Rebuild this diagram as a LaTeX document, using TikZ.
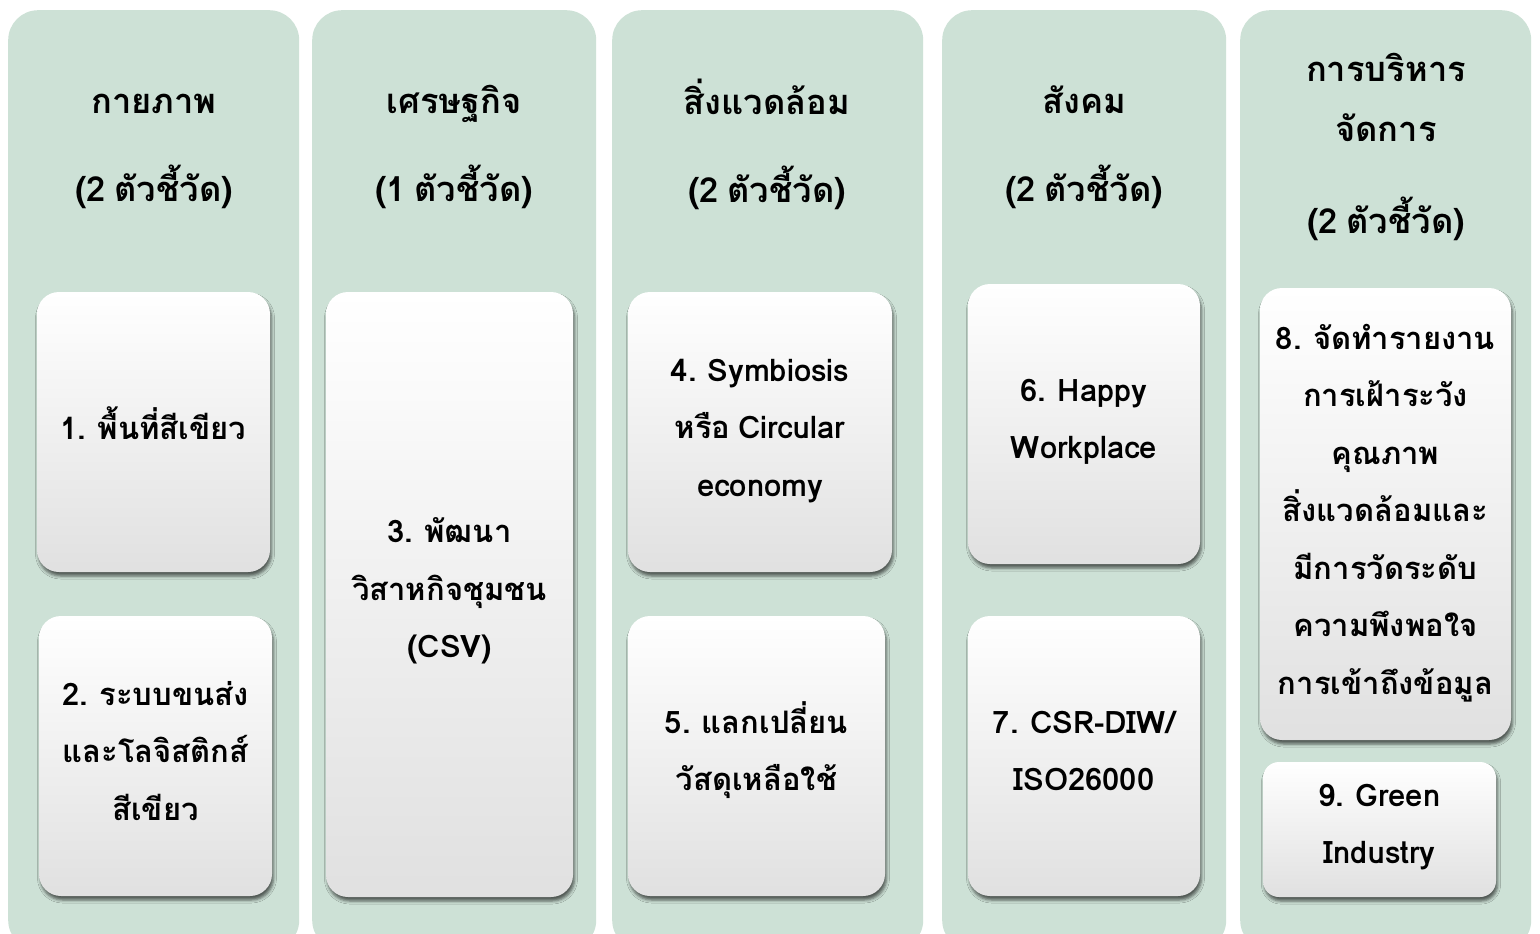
\documentclass[tikz,border=0pt]{standalone}
\usepackage{fontspec}
\setmainfont[Script=Thai,WordSpace=0.75]{Loma}
\usetikzlibrary{shadows.blur}
\definecolor{colgreen}{RGB}{205,225,214}
\tikzset{
  col/.style={fill=colgreen, draw=none, rounded corners=30pt, anchor=north west, inner sep=0pt},
  head/.style={align=center, font=\bfseries\fontsize{34.5}{88}\selectfont, text=black},
  box/.style={rounded corners=22pt, draw=none, top color=white, middle color=white, bottom color=black!12,
    align=center, font=\bfseries\fontsize{31}{57.5}\selectfont, text=black, inner sep=0pt,
    blur shadow={shadow xshift=1.5pt, shadow yshift=-4pt, shadow blur radius=3pt, shadow opacity=60}},
}
\begin{document}
\begin{tikzpicture}[x=1pt,y=-1pt]
\useasboundingbox (0,0) rectangle (1540,934);
\fill[white] (0,0) rectangle (1540,934);
% columns
\node[col, minimum width=291pt, minimum height=940pt] (c1) at (8,10) {};
\node[col, minimum width=284pt, minimum height=940pt] (c2) at (312,10) {};
\node[col, minimum width=311pt, minimum height=940pt] (c3) at (612,10) {};
\node[col, minimum width=284pt, minimum height=940pt] (c4) at (942,10) {};
\node[col, minimum width=291pt, minimum height=940pt] (c5) at (1240,10) {};
% headers
\node[head] (h1) at (154,151) {กายภาพ\\(2 ตัวชี้วัด)};
\node[head] (h2) at (454,147) {เศรษฐกิจ\\(1 ตัวชี้วัด)};
\node[head] (h3) at (767,144) {สิ่งแวดล้อม\\(2 ตัวชี้วัด)};
\node[head] (h4) at (1084,147) {สังคม\\(2 ตัวชี้วัด)};
\node[head, font=\bfseries\fontsize{34.5}{60}\selectfont] (h5) at (1386,147) {การบริหาร\\จัดการ\\[32pt](2 ตัวชี้วัด)};
% boxes
\node[box, minimum width=233pt, minimum height=280pt] (b1) at (153.5,432) {};
\node (t1) at (153.5,423) [align=center, font=\bfseries\fontsize{31}{57.5}\selectfont] {1. พื้นที่สีเขียว};
\node[box, minimum width=233pt, minimum height=280pt] (b2) at (155.5,756) {};
\node (t2) at (155.5,751) [align=center, font=\bfseries\fontsize{31}{57.5}\selectfont] {2. ระบบขนส่ง\\และโลจิสติกส์\\สีเขียว};
\node[box, minimum width=247pt, minimum height=605pt] (b3) at (449.5,594.5) {};
\node (t3) at (449.5,591) [align=center, font=\bfseries\fontsize{31}{57.5}\selectfont] {3. พัฒนา\\วิสาหกิจชุมชน\\(CSV)};
\node[box, minimum width=264pt, minimum height=280pt] (b4) at (760,432) {};
\node (t4) at (760,431) [align=center, font=\bfseries\fontsize{31}{57.5}\selectfont] {4. Symbiosis\\หรือ Circular\\economy};
\node[box, minimum width=257pt, minimum height=280pt] (b5) at (756.5,756) {};
\node (t5) at (756.5,750) [align=center, font=\bfseries\fontsize{31}{57.5}\selectfont] {5. แลกเปลี่ยน\\วัสดุเหลือใช้};
\node[box, minimum width=232pt, minimum height=280pt] (b6) at (1084,424) {};
\node (t6) at (1084,422) [align=center, font=\bfseries\fontsize{31}{57.5}\selectfont] {6. Happy\\Workplace};
\node[box, minimum width=232pt, minimum height=280pt] (b7) at (1084,756) {};
\node (t7) at (1084,751) [align=center, font=\bfseries\fontsize{31}{57.5}\selectfont] {7. CSR-DIW/\\ISO26000};
\node[box, minimum width=251pt, minimum height=452pt] (b8) at (1385.5,514) {};
\node (t8) at (1385.5,513) [align=center, font=\bfseries\fontsize{31}{57.5}\selectfont] {8. จัดทำรายงาน\\การเฝ้าระวัง\\คุณภาพ\\สิ่งแวดล้อมและ\\มีการวัดระดับ\\ความพึงพอใจ\\การเข้าถึงข้อมูล};
\node[box, minimum width=233pt, minimum height=135pt, rounded corners=16pt] (b9) at (1379.5,829.5) {};
\node (t9) at (1379.5,827) [align=center, font=\bfseries\fontsize{31}{57.5}\selectfont] {9. Green\\Industry};
\end{tikzpicture}
\end{document}
